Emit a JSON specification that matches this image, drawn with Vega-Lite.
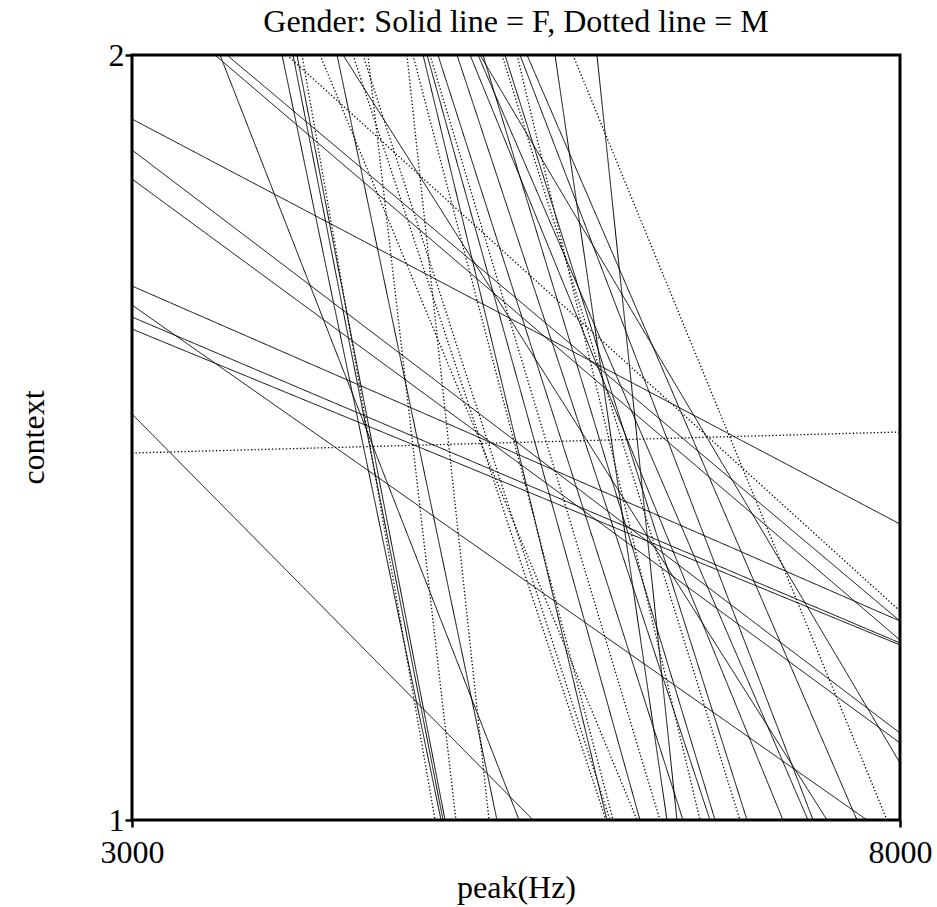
{
  "$schema": "https://vega.github.io/schema/vega-lite/v6.json",
  "width": 768,
  "height": 765,
  "autosize": {"type": "none"},
  "padding": {"left": 132, "top": 55, "right": 37, "bottom": 87},
  "background": "white",
  "title": {"text": "Gender: Solid line = F, Dotted line = M", "font": "Liberation Serif", "fontSize": 32, "fontWeight": "normal", "color": "black", "baseline": "alphabetic", "offset": 5, "dy": 30, "frame": "group", "anchor": "middle"},
  "config": {
    "view": {"stroke": "black", "strokeWidth": 3},
    "axis": {"domain": false, "grid": false, "tickColor": "black", "tickWidth": 2.5, "tickSize": 7, "labelFont": "Liberation Serif", "labelFontSize": 32, "labelColor": "black", "titleFont": "Liberation Serif", "titleFontSize": 32, "titleFontWeight": "normal", "titleColor": "black"}
  },
  "data": {"values": [
    {"id": 1, "gender": "F", "peak": 3000, "context": 1.9163}, {"id": 1, "gender": "F", "peak": 8000, "context": 1.3869},
    {"id": 2, "gender": "F", "peak": 3000, "context": 1.8758}, {"id": 2, "gender": "F", "peak": 8000, "context": 1.1137},
    {"id": 3, "gender": "F", "peak": 3000, "context": 1.8379}, {"id": 3, "gender": "F", "peak": 8000, "context": 1.1007},
    {"id": 4, "gender": "F", "peak": 3000, "context": 1.6980}, {"id": 4, "gender": "F", "peak": 8000, "context": 1.2601},
    {"id": 5, "gender": "F", "peak": 3000, "context": 1.6732}, {"id": 5, "gender": "F", "peak": 7785, "context": 1},
    {"id": 6, "gender": "F", "peak": 3000, "context": 1.6575}, {"id": 6, "gender": "F", "peak": 8000, "context": 1.2314},
    {"id": 7, "gender": "F", "peak": 3000, "context": 1.6418}, {"id": 7, "gender": "F", "peak": 8000, "context": 1.2288},
    {"id": 8, "gender": "F", "peak": 3000, "context": 1.5307}, {"id": 8, "gender": "F", "peak": 5611, "context": 1},
    {"id": 9, "gender": "M", "peak": 3000, "context": 1.4797}, {"id": 9, "gender": "M", "peak": 8000, "context": 1.5072},
    {"id": 10, "gender": "F", "peak": 3540, "context": 2}, {"id": 10, "gender": "F", "peak": 8000, "context": 1.2353},
    {"id": 11, "gender": "F", "peak": 3573, "context": 2}, {"id": 11, "gender": "F", "peak": 5520, "context": 1},
    {"id": 12, "gender": "F", "peak": 3618, "context": 2}, {"id": 12, "gender": "F", "peak": 8000, "context": 1.2601},
    {"id": 13, "gender": "F", "peak": 3977, "context": 2}, {"id": 13, "gender": "F", "peak": 5012, "context": 1},
    {"id": 14, "gender": "M", "peak": 4009, "context": 2}, {"id": 14, "gender": "M", "peak": 8000, "context": 1.2732},
    {"id": 15, "gender": "F", "peak": 4048, "context": 2}, {"id": 15, "gender": "F", "peak": 5025, "context": 1},
    {"id": 16, "gender": "F", "peak": 4074, "context": 2}, {"id": 16, "gender": "F", "peak": 5038, "context": 1},
    {"id": 17, "gender": "M", "peak": 4107, "context": 2}, {"id": 17, "gender": "M", "peak": 4973, "context": 1},
    {"id": 18, "gender": "M", "peak": 4224, "context": 2}, {"id": 18, "gender": "M", "peak": 6288, "context": 1},
    {"id": 19, "gender": "F", "peak": 4335, "context": 2}, {"id": 19, "gender": "F", "peak": 5376, "context": 1},
    {"id": 20, "gender": "F", "peak": 4374, "context": 2}, {"id": 20, "gender": "F", "peak": 7525, "context": 1},
    {"id": 21, "gender": "M", "peak": 4439, "context": 2}, {"id": 21, "gender": "M", "peak": 6086, "context": 1},
    {"id": 22, "gender": "M", "peak": 4504, "context": 2}, {"id": 22, "gender": "M", "peak": 6112, "context": 1},
    {"id": 23, "gender": "M", "peak": 4536, "context": 2}, {"id": 23, "gender": "M", "peak": 5109, "context": 1},
    {"id": 24, "gender": "M", "peak": 4790, "context": 2}, {"id": 24, "gender": "M", "peak": 5324, "context": 1},
    {"id": 25, "gender": "M", "peak": 4829, "context": 2}, {"id": 25, "gender": "M", "peak": 6132, "context": 1},
    {"id": 26, "gender": "F", "peak": 4895, "context": 2}, {"id": 26, "gender": "F", "peak": 6092, "context": 1},
    {"id": 27, "gender": "F", "peak": 4921, "context": 2}, {"id": 27, "gender": "F", "peak": 6307, "context": 1},
    {"id": 28, "gender": "M", "peak": 4940, "context": 2}, {"id": 28, "gender": "M", "peak": 6437, "context": 1},
    {"id": 29, "gender": "F", "peak": 4992, "context": 2}, {"id": 29, "gender": "F", "peak": 6587, "context": 1},
    {"id": 30, "gender": "F", "peak": 5116, "context": 2}, {"id": 30, "gender": "F", "peak": 6763, "context": 1},
    {"id": 31, "gender": "F", "peak": 5201, "context": 2}, {"id": 31, "gender": "F", "peak": 7238, "context": 1},
    {"id": 32, "gender": "F", "peak": 5253, "context": 2}, {"id": 32, "gender": "F", "peak": 7401, "context": 1},
    {"id": 33, "gender": "F", "peak": 5266, "context": 2}, {"id": 33, "gender": "F", "peak": 8000, "context": 1.0745},
    {"id": 34, "gender": "F", "peak": 5285, "context": 2}, {"id": 34, "gender": "F", "peak": 6796, "context": 1},
    {"id": 35, "gender": "M", "peak": 5409, "context": 2}, {"id": 35, "gender": "M", "peak": 6958, "context": 1},
    {"id": 36, "gender": "F", "peak": 5428, "context": 2}, {"id": 36, "gender": "F", "peak": 7004, "context": 1},
    {"id": 37, "gender": "M", "peak": 5507, "context": 2}, {"id": 37, "gender": "M", "peak": 6698, "context": 1},
    {"id": 38, "gender": "F", "peak": 5526, "context": 2}, {"id": 38, "gender": "F", "peak": 7434, "context": 1},
    {"id": 39, "gender": "F", "peak": 5572, "context": 2}, {"id": 39, "gender": "F", "peak": 7720, "context": 1},
    {"id": 40, "gender": "F", "peak": 5754, "context": 2}, {"id": 40, "gender": "F", "peak": 6483, "context": 1},
    {"id": 41, "gender": "M", "peak": 5871, "context": 2}, {"id": 41, "gender": "M", "peak": 7915, "context": 1},
    {"id": 42, "gender": "F", "peak": 6027, "context": 2}, {"id": 42, "gender": "F", "peak": 6548, "context": 1}
  ]},
  "mark": {"type": "line", "clip": true, "color": "black"},
  "encoding": {
    "x": {"field": "peak", "type": "quantitative", "scale": {"domain": [3000, 8000], "nice": false, "zero": false},
          "axis": {"values": [3000, 8000], "format": "d", "title": "peak(Hz)", "labelPadding": 10, "labelFlush": false, "titleBaseline": "alphabetic", "titleX": 384, "titleY": 77}},
    "y": {"field": "context", "type": "quantitative", "scale": {"domain": [1, 2], "nice": false, "zero": false},
          "axis": {"values": [1, 2], "format": "d", "title": "context", "labelPadding": 1, "labelFlush": false, "titleBaseline": "middle", "titleX": -99, "titleY": 382, "titleAngle": -90}},
    "detail": {"field": "id", "type": "nominal"},
    "strokeDash": {"field": "gender", "type": "nominal", "scale": {"domain": ["F", "M"], "range": [[1, 0], [1.3, 2.2]]}, "legend": null},
    "strokeWidth": {"field": "gender", "type": "nominal", "scale": {"domain": ["F", "M"], "range": [1, 1.3]}, "legend": null}
  }
}
